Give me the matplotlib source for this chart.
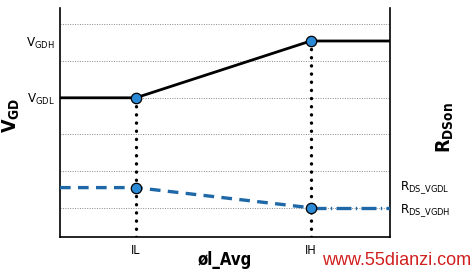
import matplotlib.pyplot as plt

plt.rcParams['font.family'] = ['DejaVu Sans']
plt.rcParams['font.stretch'] = 'condensed'
plt.rcParams['mathtext.default'] = 'regular'

# current axis positions (arbitrary units) and levels
x_pts = [0.0, 2.3, 7.6, 10.0]
vgd = [4.0, 4.0, 5.55, 5.55]
rds = [1.55, 1.55, 1.0, 1.0]
x_ticks = [2.3, 7.6]
x_tick_labels = ["IL", "IH"]
vgd_ticks = [5.55, 4.0]
vgd_labels = [r"$V_{GDH}$", r"$V_{GDL}$"]
rds_ticks = [1.62, 1.0]
rds_labels = [r"$R_{DS\_VGDL}$", r"$R_{DS\_VGDH}$"]
grid_levels = [1, 2, 3, 4, 5, 6]

fig = plt.figure(figsize=(4.76, 2.76), dpi=100)
ax = fig.add_axes([0.126, 0.141, 0.693, 0.830])
ax.set_xlim(0, 10)
ax.set_ylim(0.2, 6.45)

for g in grid_levels:
    ax.axhline(g, color='#888888', lw=0.7, ls=(0, (1, 1.5)), zorder=1)

# dotted drop lines
for i in (1, 2):
    ax.plot([x_pts[i], x_pts[i]], [0.2, vgd[i]], color='black', lw=2.4,
            ls=(0, (0.05, 2.4)), dash_capstyle='round', zorder=2)

# V_GD curve
ax.plot(x_pts, vgd, color='black', lw=2, zorder=3)

# R_DSon curve
blue = '#1f68a8'
ax.plot(x_pts[:3], rds[:3], color=blue, lw=2.4, ls=(0, (3.2, 2.2)), zorder=3)
ax.plot(x_pts[2:], rds[2:], color=blue, lw=2.4, ls=(0, (4.5, 1.3, 0.4, 1.3)), zorder=3)

mk = dict(marker='o', ms=7.5, mfc='#2a8ad6', mec='black', mew=0.9, ls='none', zorder=4)
ax.plot(x_pts[1:3], vgd[1:3], **mk)
ax.plot(x_pts[1:3], rds[1:3], **mk)

ax.spines['top'].set_visible(False)
for s in ('left', 'right', 'bottom'):
    ax.spines[s].set_linewidth(1.2)

ax.set_xticks(x_ticks, x_tick_labels, fontsize=9)
ax.set_yticks(vgd_ticks, vgd_labels, fontsize=9.5)
ax.tick_params(length=0, pad=5)
ax.tick_params(axis='y', pad=4)

ax2 = ax.twinx()
ax2.set_ylim(ax.get_ylim())
ax2.set_yticks(rds_ticks, rds_labels, fontsize=9.5)
ax2.tick_params(length=0, pad=7)
for s in ('top', 'left', 'bottom', 'right'):
    ax2.spines[s].set_visible(False)

ax.set_xlabel(r"øl_Avg", fontsize=12, fontweight='bold')
ax.xaxis.set_label_coords(0.5, -0.06)
ax.set_ylabel(r"$V_{GD}$", fontsize=14, fontweight='bold')
ax.yaxis.set_label_coords(-0.115, 0.53)
ax2.set_ylabel(r"$R_{DSon}$", fontsize=14, fontweight='bold')
ax2.yaxis.set_label_coords(1.135, 0.48)

fig.text(0.99, 0.025, "www.55dianzi.com", color='#d02020', fontsize=13,
         ha='right', va='bottom', family=['Liberation Sans', 'DejaVu Sans'])

fig.savefig('out.png', dpi=100)
